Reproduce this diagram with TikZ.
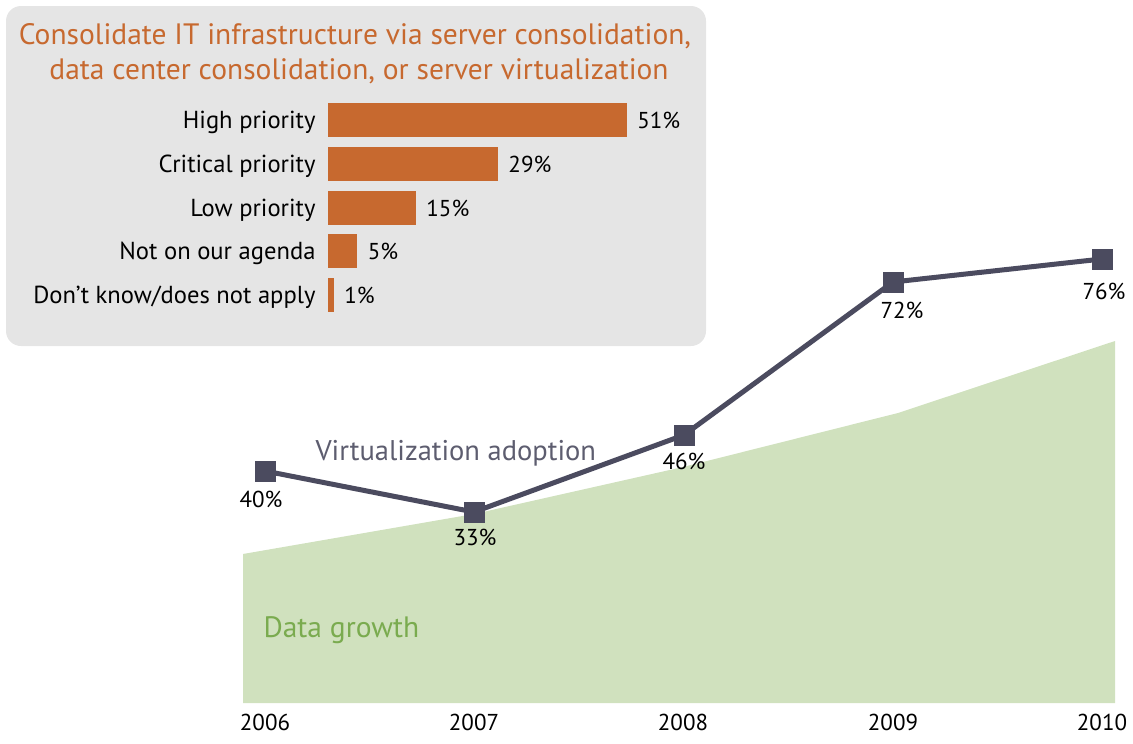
\documentclass[tikz,border=0pt]{standalone}
\usepackage{fontspec}
\setmainfont{PT Sans}
\usetikzlibrary{positioning}
\definecolor{boxgrey}{HTML}{E5E5E5}
\definecolor{rust}{HTML}{C7692F}
\definecolor{slate}{HTML}{4B4B5F}
\definecolor{leaf}{HTML}{D0E1BE}
\definecolor{leaftext}{HTML}{7AAB4F}

\begin{document}
\begin{tikzpicture}[x=1pt, y=-1pt,
  titletext/.style={anchor=base, text=rust, font=\fontsize{29.5}{29.5}\selectfont},
  barname/.style={anchor=base east, font=\fontsize{24.6}{24.6}\selectfont},
  barvalue/.style={anchor=base west, font=\fontsize{23}{23}\selectfont},
  marker/.style={fill=slate, minimum size=21pt, inner sep=0pt},
  pointvalue/.style={anchor=base, font=\fontsize{23}{23}\selectfont},
  yearlabel/.style={anchor=base, font=\fontsize{23}{23}\selectfont}]
  \useasboundingbox (0,0) rectangle (1133,744);

  % data growth area
  \fill[leaf] (243,703) -- (243,554) -- (474,514) -- (683,467)
    -- (898,413) -- (1115,341) -- (1115,703) -- cycle;
  \node[anchor=base west, text=leaftext, font=\fontsize{29.5}{29.5}\selectfont]
    (growth) at (260,637) {Data growth};

  % survey box
  \fill[boxgrey, rounded corners=15pt] (6,6) rectangle (706,346);
  \node[titletext] (title) at (355,44) {Consolidate IT infrastructure via server consolidation,};
  \node[titletext] (subtitle) at (359,79) {data center consolidation, or server virtualization};

  % bars
  \foreach \lab/\val/\yc [count=\i] in {High priority/51/120, Critical priority/29/164,
      Low priority/15/208, Not on our agenda/5/251, {Don’t know/does not apply}/1/295} {
    \fill[rust] (328,\yc-17) rectangle ++(\val*5.86,34);
    \node[barname] (name\i) at (319,\yc+8) {\lab};
    \node[barvalue] (value\i) at (328+\val*5.86+7,\yc+8) {\val\%};
  }

  % virtualization adoption
  \node[marker] (y2006) at (265,471) {};
  \node[marker] (y2007) at (474,512) {};
  \node[marker] (y2008) at (684,435) {};
  \node[marker] (y2009) at (893,282) {};
  \node[marker] (y2010) at (1102,259) {};
  \draw[slate, line width=5pt, line join=round]
    (y2006.center) -- (y2007.center) -- (y2008.center) -- (y2009.center) -- (y2010.center);
  \node[anchor=base west, text=slate!90, font=\fontsize{28.5}{28.5}\selectfont]
    (adoption) at (312,460) {Virtualization adoption};

  \foreach \x/\yb/\v in {261/507/40, 475/545/33, 684/469/46, 902/318/72, 1104/299/76} {
    \node[pointvalue] (pct\v) at (\x,\yb) {\v\%};
  }

  % years
  \foreach \x/\yr in {265/2006, 474/2007, 683/2008, 893/2009, 1102/2010} {
    \node[yearlabel] (year\yr) at (\x,730) {\yr};
  }
\end{tikzpicture}
\end{document}
